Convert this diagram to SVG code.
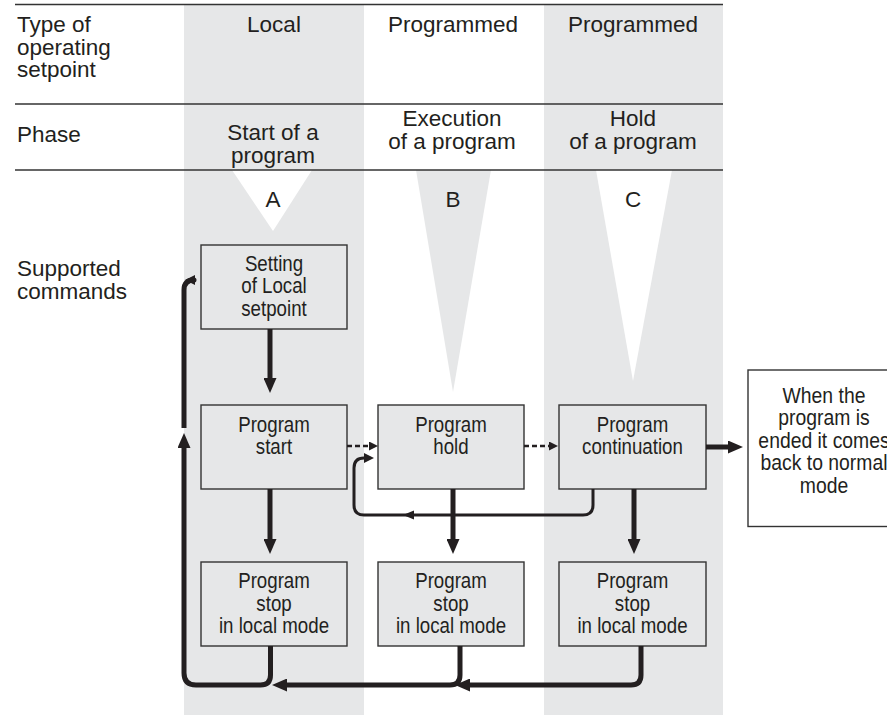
<svg xmlns="http://www.w3.org/2000/svg" width="887" height="715" viewBox="0 0 887 715">
<style>
.h{font-family:"Liberation Sans",Arial,Helvetica,sans-serif;font-size:22.5px;fill:#231f20}
.m{text-anchor:middle}
.b{font-family:"Liberation Sans",Arial,Helvetica,sans-serif;font-size:22px;fill:#231f20;text-anchor:middle}
.col{fill:#e6e7e8}
.rule{stroke:#333;stroke-width:1.5;fill:none}
.box{fill:#e6e7e8;stroke:#333;stroke-width:1.4}
.wbox{fill:#fff;stroke:#333;stroke-width:1.4}
.thick{stroke:#231f20;stroke-width:5;fill:none;stroke-linejoin:round}
.thin{stroke:#231f20;stroke-width:3;fill:none;stroke-linejoin:round}
.dash{stroke:#231f20;stroke-width:2.5;fill:none;stroke-dasharray:5 3}
.ah{fill:#231f20}
</style>
<defs>
<marker id="big" markerUnits="userSpaceOnUse" markerWidth="15" markerHeight="13" viewBox="0 0 15 13" refX="5" refY="6.5" orient="auto"><path d="M0,0 L15,6.5 L0,13 z" fill="#231f20"/></marker>
<marker id="small" markerUnits="userSpaceOnUse" markerWidth="10" markerHeight="10" viewBox="0 0 10 10" refX="2" refY="5" orient="auto"><path d="M0,0 L10,5 L0,10 z" fill="#231f20"/></marker>
<marker id="dsh" markerUnits="userSpaceOnUse" markerWidth="9" markerHeight="9" viewBox="0 0 9 9" refX="1" refY="4.5" orient="auto"><path d="M0,0 L9,4.5 L0,9 z" fill="#231f20"/></marker>
</defs>
<rect width="887" height="715" fill="#fff"/>
<!-- columns -->
<rect class="col" x="184" y="4" width="180" height="711"/>
<rect class="col" x="544" y="4" width="179" height="711"/>
<!-- phase triangles -->
<polygon points="232,170 312,170 273,231" fill="#fff"/>
<polygon points="416,170 491,170 453,392" fill="#e6e7e8"/>
<polygon points="596,170 672,170 633,381" fill="#fff"/>
<!-- rules -->
<line class="rule" x1="15" y1="4.5" x2="723" y2="4.5"/>
<line class="rule" x1="15" y1="104" x2="723" y2="104"/>
<line class="rule" x1="15" y1="170" x2="723" y2="170"/>
<!-- header texts -->
<text class="h" x="17" y="32"><tspan x="17" y="32">Type of</tspan><tspan x="17" y="54.5">operating</tspan><tspan x="17" y="77">setpoint</tspan></text>
<text class="h m" x="274" y="32">Local</text>
<text class="h m" x="453" y="32">Programmed</text>
<text class="h m" x="633" y="32">Programmed</text>
<text class="h" x="17" y="142">Phase</text>
<text class="h m"><tspan x="273" y="140">Start of a</tspan><tspan x="273" y="162.5">program</tspan></text>
<text class="h m"><tspan x="452" y="126">Execution</tspan><tspan x="452" y="148.5">of a program</tspan></text>
<text class="h m"><tspan x="633" y="126">Hold</tspan><tspan x="633" y="148.5">of a program</tspan></text>
<text class="h m" x="273" y="207">A</text>
<text class="h m" x="453" y="207">B</text>
<text class="h m" x="633" y="207">C</text>
<text class="h"><tspan x="17" y="276">Supported</tspan><tspan x="17" y="298.5">commands</tspan></text>
<!-- nodes -->
<g id="setting">
<rect class="box" x="201" y="245" width="146" height="84"/>
<text class="b" transform="translate(274 0) scale(0.85 1)"><tspan x="0" y="271">Setting</tspan><tspan x="0" y="293.5">of Local</tspan><tspan x="0" y="316">setpoint</tspan></text>
</g>
<g id="start">
<rect class="box" x="201" y="405" width="146" height="84"/>
<text class="b" transform="translate(274 0) scale(0.85 1)"><tspan x="0" y="432">Program</tspan><tspan x="0" y="454">start</tspan></text>
</g>
<g id="hold">
<rect class="box" x="378" y="405" width="146" height="84"/>
<text class="b" transform="translate(451 0) scale(0.85 1)"><tspan x="0" y="432">Program</tspan><tspan x="0" y="454">hold</tspan></text>
</g>
<g id="continuation">
<rect class="box" x="559" y="405" width="147" height="84"/>
<text class="b" transform="translate(632.5 0) scale(0.85 1)"><tspan x="0" y="432">Program</tspan><tspan x="0" y="454">continuation</tspan></text>
</g>
<g id="stop1">
<rect class="box" x="201" y="562" width="146" height="84"/>
<text class="b" transform="translate(274 0) scale(0.85 1)"><tspan x="0" y="588.5">Program</tspan><tspan x="0" y="611">stop</tspan><tspan x="0" y="633.5">in local mode</tspan></text>
</g>
<g id="stop2">
<rect class="box" x="378" y="562" width="146" height="84"/>
<text class="b" transform="translate(451 0) scale(0.85 1)"><tspan x="0" y="588.5">Program</tspan><tspan x="0" y="611">stop</tspan><tspan x="0" y="633.5">in local mode</tspan></text>
</g>
<g id="stop3">
<rect class="box" x="559" y="562" width="147" height="84"/>
<text class="b" transform="translate(632.5 0) scale(0.85 1)"><tspan x="0" y="588.5">Program</tspan><tspan x="0" y="611">stop</tspan><tspan x="0" y="633.5">in local mode</tspan></text>
</g>
<g id="normal">
<rect class="wbox" x="748" y="370" width="150" height="156.5"/>
<text class="b" transform="translate(824 0) scale(0.88 1)"><tspan x="0" y="403">When the</tspan><tspan x="0" y="425.5">program is</tspan><tspan x="0" y="448">ended it comes</tspan><tspan x="0" y="470.5">back to normal</tspan><tspan x="0" y="493">mode</tspan></text>
</g>
<!-- connectors -->
<g id="connectors">
<path class="thick" d="M270,329 V383" marker-end="url(#big)"/>
<path class="thick" d="M270,489 V544" marker-end="url(#big)"/>
<path class="thick" d="M453,489 V544" marker-end="url(#big)"/>
<path class="thick" d="M634,489 V544" marker-end="url(#big)"/>
<path class="thick" d="M706,447 H733" marker-end="url(#big)"/>
<path class="dash" d="M347,446 H370" marker-end="url(#dsh)"/>
<path class="dash" d="M524,446 H550" marker-end="url(#dsh)"/>
<path class="thin" d="M593,489 V505 Q593,515 583,515 H364 Q354,515 354,505 V468 Q354,458 364,458 H366" marker-end="url(#small)"/>
<polygon class="ah" points="403,515 414,510.5 414,519.5"/>
<path class="thick" d="M641,646 V675 Q641,685 631,685 H465" marker-end="url(#big)"/>
<path class="thick" d="M460,646 V675 Q460,685 450,685 H282" marker-end="url(#big)"/>
<path class="thick" d="M270.5,646 V675 Q270.5,685 260.5,685 H196 Q184,685 184,673 V443" marker-end="url(#big)"/>
<path class="thick" d="M184,428 V290 Q184,280 194,280 H193" marker-end="url(#small)"/>
</g>
</svg>
